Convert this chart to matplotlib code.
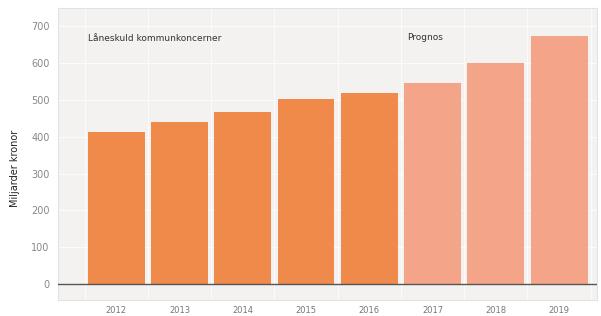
import matplotlib
matplotlib.use("Agg")
import matplotlib.pyplot as plt
import numpy as np

years = ["2012", "2013", "2014", "2015", "2016", "2017", "2018", "2019"]
values = [413, 440, 467, 502, 519, 546, 599, 674]
is_forecast = [False, False, False, False, False, True, True, True]
yticks = [0, 100, 200, 300, 400, 500, 600, 700]

c_hist = "#f08a4b"
c_prog = "#f4a489"
bg = "#f3f2f1"

fig = plt.figure(figsize=(6.01, 3.16), dpi=100)
ax = fig.add_axes([58/601, 1-300/316, 539/601, 292/316])
ax.set_facecolor(bg)

x = np.arange(len(years))
colors = [c_prog if f else c_hist for f in is_forecast]
ax.bar(x, values, width=0.9, color=colors, zorder=3)

ax.set_xlim(-0.92, 7.6)
ax.set_ylim(-43, 749)
ax.set_yticks(yticks)
ax.set_yticklabels([str(v) for v in yticks])
ax.set_xticks(x)
ax.set_xticklabels(years)
ax.set_xticks(np.arange(-0.5, 8, 1), minor=True)
ax.grid(True, which="major", axis="y", color="#fbfbfb", lw=0.8, zorder=1)
ax.grid(True, which="minor", axis="x", color="#fbfbfb", lw=0.8, zorder=1)
ax.tick_params(which="both", length=0)
ax.tick_params(axis="x", labelsize=6, colors="#777777", pad=4)
ax.tick_params(axis="y", labelsize=7, colors="#888888", pad=6)
ax.axhline(0, color="#555555", lw=1.0, zorder=4)
for s in ax.spines.values():
    s.set_color("#e2e2e2")
    s.set_linewidth(0.8)

ax.set_ylabel("Miljarder kronor", fontsize=7, color="#222222")
ax.yaxis.set_label_coords(-0.07, 0.45)

ax.text(-0.45, 665, "Låneskuld kommunkoncerner", fontsize=6.5, color="#333333",
        ha="left", va="center", zorder=5)
ax.text(4.6, 670, "Prognos", fontsize=6.5, color="#333333",
        ha="left", va="center", zorder=5)

fig.savefig("out.png", dpi=100)
